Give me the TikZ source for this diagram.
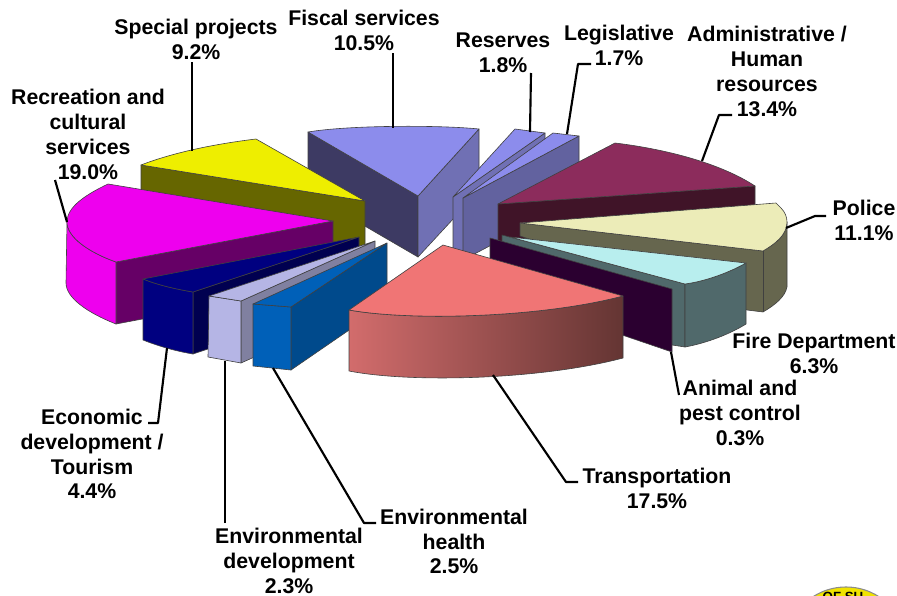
\documentclass[tikz,border=0pt]{standalone}
\usepackage{fontspec}
\setmainfont{Liberation Sans}
\definecolor{ptop}{HTML}{8C8CEC}
\definecolor{pfl}{HTML}{3D3A63}
\definecolor{pfr}{HTML}{7070B4}
\definecolor{plg}{HTML}{62629F}
\definecolor{yt}{HTML}{EEEE00}
\definecolor{ys}{HTML}{666600}
\definecolor{mt}{HTML}{EE00EE}
\definecolor{ms}{HTML}{660066}
\definecolor{nt}{HTML}{000080}
\definecolor{ns}{HTML}{000050}
\definecolor{lt}{HTML}{B5B5E5}
\definecolor{ls}{HTML}{8080A0}
\definecolor{bt}{HTML}{0060B8}
\definecolor{bs}{HTML}{004A8C}
\definecolor{rt}{HTML}{8C2C5C}
\definecolor{rs}{HTML}{401428}
\definecolor{ct}{HTML}{ECECB8}
\definecolor{cs}{HTML}{66664E}
\definecolor{it}{HTML}{B8EEEE}
\definecolor{is}{HTML}{50696B}
\definecolor{pu}{HTML}{2B0030}
\definecolor{st}{HTML}{F07575}
\definecolor{sl}{HTML}{D26C6C}
\definecolor{sr}{HTML}{643533}
\tikzset{
  face/.style={draw=black!75,line width=0.45pt,line join=round},
  lead/.style={draw=black,line width=1.6pt,line join=round},
  lbl/.style={inner sep=0pt,align=center,font=\fontsize{15.95}{18.6}\selectfont\bfseries}
}
\begin{document}
\begin{tikzpicture}[x=0.75pt,y=-0.75pt]
\useasboundingbox (0,0) rectangle (897,596);
% logo at the bottom edge
\begin{scope}
\clip (0,0) rectangle (897,596);
\fill[yt!90!orange,draw=black!45,line width=0.8pt] (846,648) circle (61);
\node (logo) at (843,597) {\fontsize{10}{10}\selectfont\bfseries OF SU};
\end{scope}
% fiscal
\path[face,fill=pfl] (308,132) -- (418,196) -- (418,257) -- (308,193) -- cycle;
\path[face,fill=pfr] (418,196) -- (479,129) -- (479,191) -- (418,257) -- cycle;
\path[face,fill=ptop] (308,132) .. controls (350,125) and (440,125) .. (479,129) -- (418,196) -- cycle;
% reserves
\path[face,fill=pfr] (453,197) -- (545,133) -- (545,195) -- (453,259) -- cycle;
\path[face,fill=ptop] (453,197) -- (515,129) -- (545,133) -- cycle;
% legislative
\path[face,fill=plg] (463,198) -- (579,136) -- (579,199) -- (463,260) -- cycle;
\path[face,fill=ptop] (463,198) -- (553,133) -- (579,136) -- cycle;
% administrative
\path[face,fill=rs] (498,204) -- (755,186) -- (755,240) -- (498,258) -- cycle;
\path[face,fill=rt] (498,204) -- (615,143) .. controls (665,149) and (720,163) .. (755,186) -- cycle;
% police
\path[face,fill=cs] (520,223) -- (763,251) .. controls (775,244) and (787,235) .. (787,222) -- (787,287) .. controls (785,297) and (775,305) .. (763,312) -- (747,310) -- (520,236) -- cycle;
\draw[draw=black!75,line width=0.45pt] (763,251) -- (763,312);
\path[face,fill=ct] (520,223) -- (776,203) -- (781,208) .. controls (785,212) and (787,217) .. (787,222) .. controls (787,235) and (775,244) .. (763,251) -- cycle;
% fire
\path[face,fill=is] (502,235) -- (685,284) -- (685,347) -- (672,345) -- (502,290) -- cycle;
\path[face,fill=is] (685,284) .. controls (707,281) and (730,272) .. (746,263) -- (746,324) .. controls (730,334) and (707,343) .. (685,347) -- cycle;
\path[face,fill=it] (510,237) -- (746,263) .. controls (730,272) and (707,281) .. (685,284) -- cycle;
% animal
\path[face,fill=pu] (490,238) -- (672,289) -- (672,352) -- (490,290) -- cycle;
% special projects
\path[face,fill=ys] (141,165) -- (365,201) -- (365,262) -- (141,226) -- cycle;
\path[face,fill=yt] (141,165) .. controls (175,152) and (215,144) .. (256,139) -- (365,201) -- cycle;
% recreation
\path[face,fill=ms] (116,262) -- (333,221) -- (333,283) -- (116,324) -- cycle;
\path[face,fill=mt] (116,262) .. controls (88,252) and (67,237) .. (67,222) -- (66,283) .. controls (66,298) and (88,313) .. (116,324) -- cycle;
\path[face,fill=mt] (116,262) .. controls (88,252) and (67,237) .. (67,222) .. controls (67,207) and (85,195) .. (108,184) -- (333,221) -- cycle;
% economic
\path[face,fill=ns] (193,292) -- (359,237) -- (359,298) -- (193,354) -- cycle;
\path[face,fill=nt] (143,279) .. controls (158,285) and (175,289) .. (193,292) -- (193,354) .. controls (175,351) and (158,346) .. (143,340) -- cycle;
\path[face,fill=nt] (143,279) .. controls (158,285) and (175,289) .. (193,292) -- (359,237) -- cycle;
% env development
\path[face,fill=ls] (241,301) -- (375,241) -- (375,303) -- (241,363) -- cycle;
\path[face,fill=lt] (209,296) -- (241,301) -- (241,363) -- (208,357) -- cycle;
\path[face,fill=lt] (209,296) -- (241,301) -- (375,241) -- cycle;
% env health
\path[face,fill=bs] (291,307) -- (387,243) -- (387,304) -- (291,370) -- cycle;
\path[face,fill=bt] (253,304) -- (291,307) -- (291,370) -- (253,366) -- cycle;
\path[face,fill=bt] (253,304) -- (291,307) -- (387,243) -- cycle;
% transportation
\path[face,left color=sl,right color=sr] (349,310) .. controls (410,321) and (540,318) .. (623,296) -- (623,358) .. controls (540,380) and (410,383) .. (349,371) -- cycle;
\path[face,fill=st] (349,310) .. controls (410,321) and (540,318) .. (623,296) -- (443,245) -- cycle;
% labels
\node[lbl] (lrec) at (88,134.5) {Recreation and\\cultural\\services\\19.0\%};
\node[lbl] (lspe) at (196,39.5) {Special projects\\9.2\%};
\node[lbl] (lfis) at (364,30.5) {Fiscal services\\10.5\%};
\node[lbl] (lres) at (503,53) {Reserves\\1.8\%};
\node[lbl] (lleg) at (619,45.5) {Legislative\\1.7\%};
\node[lbl] (ladm) at (767,71.5) {Administrative /\\Human\\resources\\13.4\%};
\node[lbl] (lpol) at (864,220.5) {Police\\11.1\%};
\node[lbl] (lfir) at (814,353.5) {Fire Department\\6.3\%};
\node[lbl] (lani) at (740,413) {Animal and\\pest control\\0.3\%};
\node[lbl] (ltra) at (657,488) {Transportation\\17.5\%};
\node[lbl] (lhea) at (454,541.5) {Environmental\\health\\2.5\%};
\node[lbl] (ldev) at (289,561) {Environmental\\development\\2.3\%};
\node[lbl] (leco) at (92,454) {Economic\\development /\\Tourism\\4.4\%};
% leader points
\coordinate (a1) at (192,62); \coordinate (a2) at (192,151);
\coordinate (b1) at (393,53); \coordinate (b2) at (393,128);
\coordinate (c1) at (531,73); \coordinate (c2) at (530,132);
\coordinate (d1) at (591,64); \coordinate (d2) at (578,64); \coordinate (d3) at (567,134);
\coordinate (e1) at (732,115); \coordinate (e2) at (719,115); \coordinate (e3) at (702,161);
\coordinate (f1) at (826,216); \coordinate (f2) at (815,216); \coordinate (f3) at (786,228);
\coordinate (g1) at (55,180); \coordinate (g2) at (67,222);
\coordinate (h1) at (148,423); \coordinate (h2) at (158,423); \coordinate (h3) at (167,348);
\coordinate (i1) at (225,523); \coordinate (i2) at (225,361);
\coordinate (j1) at (376,523); \coordinate (j2) at (364,523); \coordinate (j3) at (273,368);
\coordinate (k1) at (679,395); \coordinate (k2) at (671,352);
\coordinate (m1) at (578,482); \coordinate (m2) at (566,482); \coordinate (m3) at (493,375);
\path[lead] (a1) -- (a2);
\path[lead] (b1) -- (b2);
\path[lead] (c1) -- (c2);
\path[lead] (d1) -- (d2) -- (d3);
\path[lead] (e1) -- (e2) -- (e3);
\path[lead] (f1) -- (f2) -- (f3);
\path[lead] (g1) -- (g2);
\path[lead] (h1) -- (h2) -- (h3);
\path[lead] (i1) -- (i2);
\path[lead] (j1) -- (j2) -- (j3);
\path[lead] (k1) -- (k2);
\path[lead] (m1) -- (m2) -- (m3);
\end{tikzpicture}
\end{document}
